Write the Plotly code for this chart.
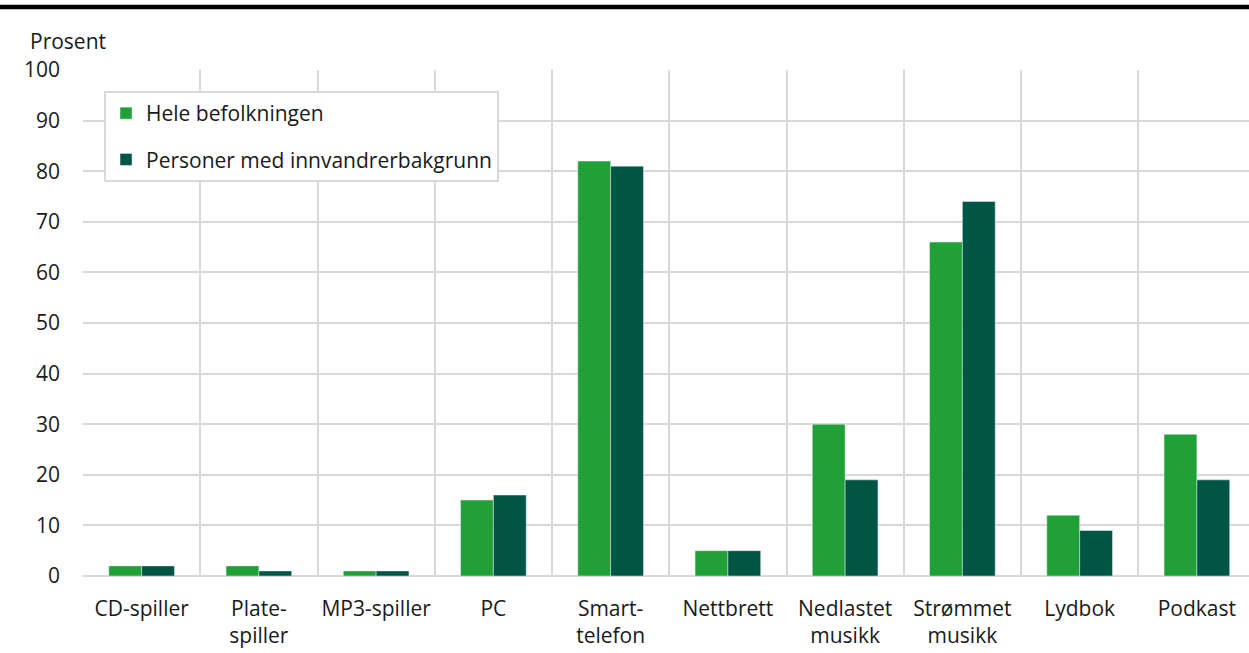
import plotly.graph_objects as go

categories = ["CD-spiller", "Plate-<br>spiller", "MP3-spiller", "PC", "Smart-<br>telefon",
              "Nettbrett", "Nedlastet<br>musikk", "Strømmet<br>musikk", "Lydbok", "Podkast"]
hele = [2, 2, 1, 15, 82, 5, 30, 66, 12, 28]
innvandrer = [2, 1, 1, 16, 81, 5, 19, 74, 9, 19]
y_ticks = list(range(0, 101, 10))

font = "Open Sans"
grid = "#d9d9d9"
fsize = 21

fig = go.Figure()
fig.add_trace(go.Bar(x=categories, y=hele, name="Hele befolkningen",
                     marker_color="#21a038", legendgroup="a"))
fig.add_trace(go.Bar(x=categories, y=innvandrer, name="Personer med innvandrerbakgrunn",
                     marker_color="#005545", legendgroup="b"))

# plot area: 83..1249 px wide, 70..576 px tall
fig.update_layout(
    width=1249, height=653,
    margin=dict(l=83, r=0, t=70, b=77),
    paper_bgcolor="white", plot_bgcolor="white",
    font=dict(family=font, size=fsize, color="#1a1a1a"),
    barmode="group", bargap=0.44, bargroupgap=0,
    legend=dict(x=(104 - 83) / 1166, y=1 - (91 - 70) / 506, xanchor="left", yanchor="top",
                bgcolor="white", bordercolor=grid, borderwidth=2,
                traceorder="grouped", tracegroupgap=16,
                font=dict(size=fsize)),
    annotations=[dict(text="Prosent", x=(28 - 83) / 1166, xref="paper",
                      y=1 + (70 - 41) / 506, yref="paper",
                      showarrow=False, xanchor="left", yanchor="middle",
                      font=dict(size=fsize))],
)

# thick black rule across the top
fig.add_shape(type="line", xref="paper", yref="paper",
              x0=-83 / 1166, x1=1.0, y0=1 + (70 - 7) / 506, y1=1 + (70 - 7) / 506,
              line=dict(color="black", width=4.5))

fig.update_xaxes(type="category", range=[-0.5, -0.5 + 1166 / 117.25],
                 tickson="boundaries", showgrid=True, gridcolor=grid, gridwidth=2,
                 ticks="", showline=False, zeroline=False, ticklabelstandoff=18,
                 tickangle=0, automargin=False, tickfont=dict(size=fsize))
fig.update_yaxes(range=[0, 100], tickvals=y_ticks, showgrid=True, gridcolor=grid,
                 gridwidth=2, zeroline=True, zerolinecolor=grid, zerolinewidth=2,
                 ticks="", ticklabelstandoff=22, automargin=False,
                 tickfont=dict(size=fsize))

fig.write_html("out.html", config={"displayModeBar": False},
               post_script="document.body.style.margin='0';")
